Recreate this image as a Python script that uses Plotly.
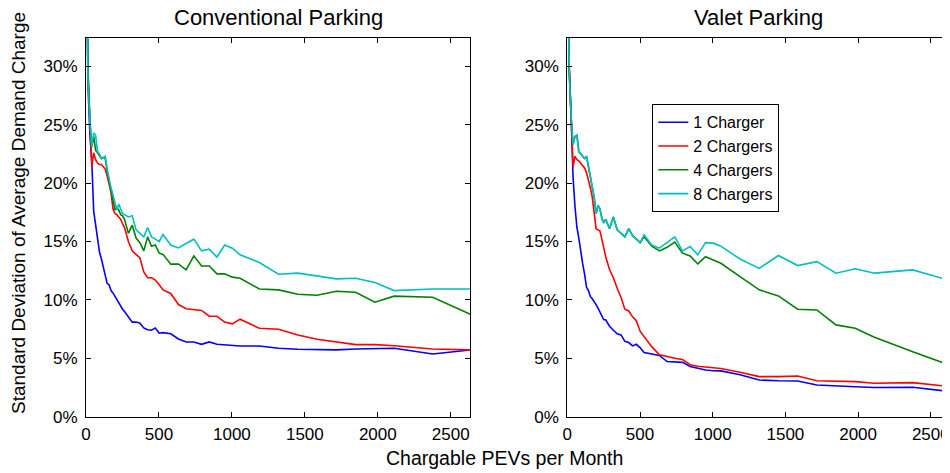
import plotly.graph_objects as go

# Shared x grid (Chargable PEVs per Month)
pevs = [4, 13.2, 26.4, 39.6, 52.8, 66, 79.2, 92.4, 105.6, 118.8, 132, 145.2, 158.4, 171.6,
        184.8, 198, 211.2, 224.4, 237.6, 250.8, 264, 290.4, 316.8, 343.2, 369.6, 396, 422.4,
        448.8, 475.2, 501.6, 528, 580.8, 633.6, 686.4, 739.2, 792, 844.8, 897.6, 950.4,
        1003.2, 1056, 1188, 1320, 1452, 1584, 1716, 1848, 1980, 2112, 2376, 2640]

# Conventional Parking (std dev of average demand charge, %)
conv_1 = [40, 28.5, 24.2, 21.9, 17.6, 16.4, 15.0, 14.1, 13.5, 12.8, 11.9, 11.4, 11.3, 10.8,
          10.6, 10.3, 10.0, 9.8, 9.5, 9.2, 9.0, 8.6, 8.1, 8.1, 8.0, 7.6, 7.45,
          7.4, 7.6, 7.15, 7.2, 7.1, 6.65, 6.4, 6.4, 6.2, 6.4, 6.2, 6.15,
          6.08, 6.06, 6.06, 5.86, 5.78, 5.78, 5.72, 5.8, 5.86, 5.86, 5.37, 5.72]
conv_2 = [40, 29.5, 25.5, 21.4, 22.6, 22.0, 21.7, 21.6, 21.6, 21.4, 21.2, 20.6, 19.9, 19.2,
          17.8, 17.4, 17.3, 17.1, 16.9, 16.5, 16.2, 15.0, 14.2, 13.9, 13.6, 12.4, 11.9,
          11.9, 11.7, 11.3, 10.85, 10.55, 9.6, 9.25, 9.2, 9.1, 8.6, 8.6, 8.1,
          7.95, 8.35, 7.57, 7.49, 7.0, 6.63, 6.37, 6.17, 6.17, 6.08, 5.8, 5.72]
conv_4 = [40, 30, 25.5, 23.1, 24.0, 22.8, 22.6, 22.4, 22.1, 22.2, 22.1, 21.0, 20.0, 19.3,
          18.6, 17.7, 17.9, 17.7, 17.3, 17.2, 16.9, 15.7, 16.4, 15.3, 14.9, 14.2, 15.4,
          14.6, 14.7, 14.0, 13.9, 13.06, 13.08, 12.57, 13.77, 12.9, 12.9, 12.23, 12.23,
          11.95, 11.86, 10.94, 10.86, 10.49, 10.4, 10.74, 10.66, 9.8, 10.32, 10.23, 8.74]
conv_8 = [40, 29.0, 25.3, 23.1, 24.3, 24.1, 22.7, 22.5, 22.1, 22.2, 22.3, 21.2, 20.3, 19.6,
          19.0, 18.2, 17.7, 18.2, 17.8, 17.4, 17.3, 17.1, 17.2, 16.0, 15.7, 15.4, 16.2,
          15.4, 15.2, 15.0, 15.6, 14.7, 14.45, 14.8, 15.2, 14.2, 14.35, 13.66, 14.7,
          14.43, 13.86, 13.2, 12.2, 12.29, 12.06, 11.8, 11.86, 11.49, 10.8, 10.94, 10.94]

# Valet Parking
valet_1 = [40, 30, 25.6, 20.5, 18.0, 16.2, 15.3, 14.0, 13.1, 12.2, 11.1, 10.8, 10.3, 10.1,
           9.9, 9.6, 9.3, 9.0, 8.6, 8.3, 8.3, 7.75, 7.4, 7.1, 7.0, 6.45, 6.35,
           6.06, 6.2, 5.9, 5.49, 5.4, 5.25, 4.72, 4.7, 4.65, 4.3, 4.12, 4.0,
           3.94, 3.92, 3.6, 3.14, 3.08, 3.06, 2.72, 2.62, 2.57, 2.5, 2.52, 2.14]
valet_2 = [40, 30, 25.8, 21.4, 22.3, 22.0, 21.9, 21.7, 21.6, 21.3, 20.9, 20.3, 19.6, 18.8,
           17.5, 16.1, 16.0, 15.9, 15.2, 14.3, 13.7, 12.6, 11.9, 11.0, 10.2, 9.2, 9.05,
           8.55, 8.2, 7.3, 6.85, 6.0, 5.3, 5.12, 5.0, 4.9, 4.45, 4.32, 4.25,
           4.15, 4.13, 3.8, 3.43, 3.43, 3.49, 3.08, 3.02, 3.0, 2.86, 2.92, 2.57]
valet_4 = [40, 29.5, 25.6, 23.3, 24.0, 24.1, 22.7, 22.5, 22.3, 22.1, 22.3, 21.5, 20.7, 19.6,
           18.8, 17.4, 18.1, 17.8, 17.0, 16.6, 16.9, 16.1, 17.1, 16.0, 15.7, 15.4, 16.1,
           15.5, 15.2, 14.9, 15.4, 14.6, 14.2, 14.5, 14.95, 14.0, 13.77, 13.08, 13.7,
           13.45, 13.14, 12.0, 10.86, 10.34, 9.2, 9.14, 7.86, 7.57, 6.8, 5.57, 4.37]
valet_8 = [40, 29.5, 25.6, 23.3, 24.0, 24.1, 22.7, 22.5, 22.3, 22.1, 22.3, 21.5, 20.7, 19.6,
           18.8, 17.4, 18.1, 17.8, 17.0, 16.6, 16.9, 16.1, 17.1, 16.0, 15.7, 15.4, 16.1,
           15.5, 15.2, 14.9, 15.57, 14.7, 14.43, 14.9, 15.4, 14.2, 14.57, 13.86, 14.9,
           14.86, 14.6, 13.5, 12.7, 13.8, 12.94, 13.28, 12.29, 12.66, 12.29, 12.57, 11.63]

series_names = ["1 Charger", "2 Chargers", "4 Chargers", "8 Chargers"]
colors = ["#0000FF", "#FF0000", "#008000", "#00BFBF"]
x_ticks = [0, 500, 1000, 1500, 2000, 2500]
y_ticks = [0, 5, 10, 15, 20, 25, 30]
y_tick_text = ["0%", "5%", "10%", "15%", "20%", "25%", "30%"]
panel_titles = ["Conventional Parking", "Valet Parking"]

# The page body has an 8px margin, so the figure starts at (8, 8) in the window.
OFF = 8
FW, FH = 950 - OFF, 473 - OFF
FONT = "Liberation Sans, Arial, sans-serif"


def fx(px):
    return (px - OFF) / FW


def fy(py):
    return 1 - (py - OFF) / FH


fig = go.Figure()
panels = [(conv_1, conv_2, conv_4, conv_8), (valet_1, valet_2, valet_4, valet_8)]
for p, data in enumerate(panels):
    xa = "x" if p == 0 else "x2"
    ya = "y" if p == 0 else "y2"
    for name, col, ys in zip(series_names, colors, data):
        fig.add_trace(go.Scatter(
            x=pevs, y=ys, mode="lines", name=name,
            line=dict(color=col, width=1.6),
            xaxis=xa, yaxis=ya, showlegend=(p == 1),
        ))

left_dom = [fx(86), fx(470)]
right_dom = [fx(567.3), 1.0]
y_dom = [fy(416.7), fy(38.3)]

axis_common = dict(
    showline=True, linecolor="black", linewidth=1, mirror="ticks",
    ticks="inside", ticklen=5, tickcolor="black", tickwidth=1,
    showgrid=False, zeroline=False, automargin=False,
    tickfont=dict(family=FONT, size=17, color="black"),
)
fig.update_layout(
    template="none",
    width=FW, height=FH, autosize=False,
    margin=dict(l=0, r=0, t=0, b=0, pad=0),
    paper_bgcolor="white", plot_bgcolor="white",
    font=dict(family=FONT, color="black"),
    xaxis=dict(domain=left_dom, range=[0, 2632], tickvals=x_ticks, anchor="y",
               ticklabelstandoff=2, **axis_common),
    yaxis=dict(domain=y_dom, range=[0, 32.4], tickvals=y_ticks, ticktext=y_tick_text,
               anchor="x", ticklabelstandoff=4, **axis_common),
    xaxis2=dict(domain=right_dom, range=[0, 2632], tickvals=x_ticks, anchor="y2",
                ticklabelstandoff=2, **axis_common),
    yaxis2=dict(domain=y_dom, range=[0, 32.4], tickvals=y_ticks, ticktext=y_tick_text,
                anchor="x2", ticklabelstandoff=4, **axis_common),
    legend=dict(
        x=fx(652.3), y=fy(104.3), xanchor="left", yanchor="top",
        bordercolor="black", borderwidth=1, bgcolor="white",
        font=dict(family=FONT, size=16, color="black"),
        tracegroupgap=0, itemwidth=30,
    ),
    showlegend=True,
)

annos = [
    dict(text=panel_titles[0], x=fx(278), y=fy(18), xanchor="center", yanchor="middle",
         xref="paper", yref="paper", showarrow=False,
         font=dict(family=FONT, size=22, color="black")),
    dict(text=panel_titles[1], x=fx(758.6), y=fy(18), xanchor="center", yanchor="middle",
         xref="paper", yref="paper", showarrow=False,
         font=dict(family=FONT, size=22, color="black")),
    dict(text="Chargable PEVs per Month", x=fx(504), y=fy(458), xanchor="center",
         yanchor="middle", xref="paper", yref="paper", showarrow=False,
         font=dict(family=FONT, size=19.5, color="black")),
    dict(text="Standard Deviation of Average Demand Charge", x=fx(18), y=fy(213),
         xanchor="center", yanchor="middle", xref="paper", yref="paper", textangle=-90,
         showarrow=False, font=dict(family=FONT, size=19, color="black")),
]
fig.update_layout(annotations=annos)

fig.write_html("out.html")
